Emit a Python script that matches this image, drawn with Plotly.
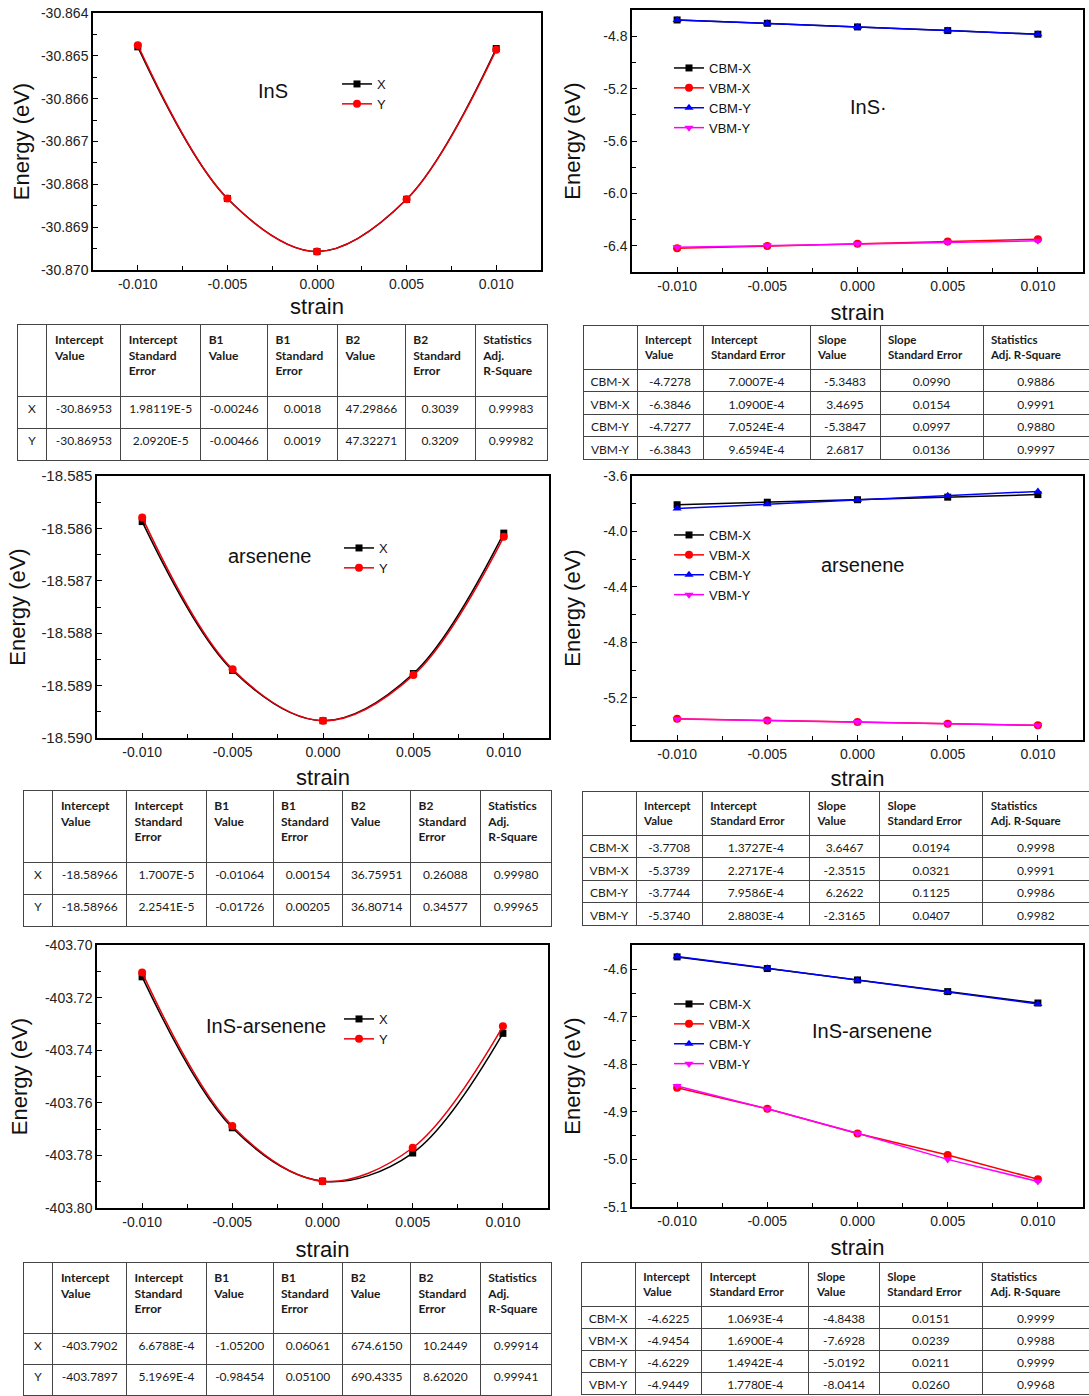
import plotly.graph_objects as go

W, H = 1089, 1396

# ---------------- data ----------------
strain = [-0.010, -0.005, 0.000, 0.005, 0.010]
strain_ticks = ["-0.010", "-0.005", "0.000", "0.005", "0.010"]

# total energies (eV)
ins_X = [-30.86479, -30.86833, -30.86957, -30.86835, -30.86483]
ins_Y = [-30.86475, -30.86833, -30.86957, -30.86835, -30.86486]
ars_X = [-18.58587, -18.58871, -18.58967, -18.58877, -18.58609]
ars_Y = [-18.58579, -18.58869, -18.58967, -18.58880, -18.58616]
het_X = [-403.7121, -403.7695, -403.7898, -403.7791, -403.7336]
het_Y = [-403.7105, -403.7688, -403.7898, -403.7771, -403.7309]

# band edges (eV)
ins_cbm_x = [-4.6761, -4.7014, -4.7292, -4.7570, -4.7848]
ins_vbm_x = [-6.4195, -6.4020, -6.3850, -6.3670, -6.3497]
ins_cbm_y = [-4.6755, -4.7010, -4.7290, -4.7572, -4.7855]
ins_vbm_y = [-6.4110, -6.3980, -6.3840, -6.3730, -6.3620]

ars_cbm_x = [-3.8072, -3.7890, -3.7710, -3.7525, -3.7340]
ars_vbm_x = [-5.3505, -5.3620, -5.3740, -5.3855, -5.3975]
ars_cbm_y = [-3.8350, -3.8030, -3.7720, -3.7430, -3.7110]
ars_vbm_y = [-5.3510, -5.3625, -5.3740, -5.3855, -5.3970]

het_cbm_x = [-4.5740, -4.5985, -4.6225, -4.6470, -4.6710]
het_vbm_x = [-4.8490, -4.8935, -4.9456, -4.9908, -5.0416]
het_cbm_y = [-4.5730, -4.5980, -4.6230, -4.6480, -4.6730]
het_vbm_y = [-4.8455, -4.8935, -4.9450, -4.9999, -5.0464]

# y tick labels per panel
ins_e_ticks = ["-30.864", "-30.865", "-30.866", "-30.867", "-30.868", "-30.869", "-30.870"]
ins_b_ticks = ["-4.8", "-5.2", "-5.6", "-6.0", "-6.4"]
ars_e_ticks = ["-18.585", "-18.586", "-18.587", "-18.588", "-18.589", "-18.590"]
ars_b_ticks = ["-3.6", "-4.0", "-4.4", "-4.8", "-5.2"]
het_e_ticks = ["-403.70", "-403.72", "-403.74", "-403.76", "-403.78", "-403.80"]
het_b_ticks = ["-4.6", "-4.7", "-4.8", "-4.9", "-5.0", "-5.1"]

# fit tables
quad_header = ["", "Intercept<br>Value", "Intercept<br>Standard<br>Error", "B1<br>Value",
               "B1<br>Standard<br>Error", "B2<br>Value", "B2<br>Standard<br>Error",
               "Statistics<br>Adj.<br>R-Square"]
lin_header = ["", "Intercept<br>Value", "Intercept<br>Standard Error", "Slope<br>Value",
              "Slope<br>Standard Error", "Statistics<br>Adj. R-Square"]

quad_rows = ["X", "Y"]
lin_rows = ["CBM-X", "VBM-X", "CBM-Y", "VBM-Y"]

t1_X = ["-30.86953", "1.98119E-5", "-0.00246", "0.0018", "47.29866", "0.3039", "0.99983"]
t1_Y = ["-30.86953", "2.0920E-5", "-0.00466", "0.0019", "47.32271", "0.3209", "0.99982"]

t3_X = ["-18.58966", "1.7007E-5", "-0.01064", "0.00154", "36.75951", "0.26088", "0.99980"]
t3_Y = ["-18.58966", "2.2541E-5", "-0.01726", "0.00205", "36.80714", "0.34577", "0.99965"]

t5_X = ["-403.7902", "6.6788E-4", "-1.05200", "0.06061", "674.6150", "10.2449", "0.99914"]
t5_Y = ["-403.7897", "5.1969E-4", "-0.98454", "0.05100", "690.4335", "8.62020", "0.99941"]

t2_cbm_x = ["-4.7278", "7.0007E-4", "-5.3483", "0.0990", "0.9886"]
t2_vbm_x = ["-6.3846", "1.0900E-4", "3.4695", "0.0154", "0.9991"]
t2_cbm_y = ["-4.7277", "7.0524E-4", "-5.3847", "0.0997", "0.9880"]
t2_vbm_y = ["-6.3843", "9.6594E-4", "2.6817", "0.0136", "0.9997"]

t4_cbm_x = ["-3.7708", "1.3727E-4", "3.6467", "0.0194", "0.9998"]
t4_vbm_x = ["-5.3739", "2.2717E-4", "-2.3515", "0.0321", "0.9991"]
t4_cbm_y = ["-3.7744", "7.9586E-4", "6.2622", "0.1125", "0.9986"]
t4_vbm_y = ["-5.3740", "2.8803E-4", "-2.3165", "0.0407", "0.9982"]

t6_cbm_x = ["-4.6225", "1.0693E-4", "-4.8438", "0.0151", "0.9999"]
t6_vbm_x = ["-4.9454", "1.6900E-4", "-7.6928", "0.0239", "0.9988"]
t6_cbm_y = ["-4.6229", "1.4942E-4", "-5.0192", "0.0211", "0.9999"]
t6_vbm_y = ["-4.9449", "1.7780E-4", "-8.0414", "0.0260", "0.9968"]

panel_labels = ["InS", "InS·", "arsenene", "arsenene", "InS-arsenene", "InS-arsenene"]

# ---------------- helpers ----------------
def px(x):
    return x / W

def py(y):
    return 1 - y / H

FONT = "Liberation Sans, Arial, sans-serif"
TFONT = "Lato, Carlito, Calibri, sans-serif"

fig = go.Figure()

# panel boxes in pixels: (x0, x1, ytop, ybottom)
boxes = [
    (93, 541, 13, 270),
    (632, 1083, 10, 272),
    (97, 549, 476, 738),
    (632, 1083, 476, 740),
    (97, 548, 945, 1208),
    (632, 1083, 945, 1207),
]
yranges = [
    ([-30.870, -30.864], ins_e_ticks, 0.0005, -30.864),
    ([-6.60, -4.60], ins_b_ticks, 0.2, -4.8),
    ([-18.590, -18.585], ars_e_ticks, 0.0005, -18.585),
    ([-5.503, -3.60], ars_b_ticks, 0.2, -3.6),
    ([-403.80, -403.70], het_e_ticks, 0.01, -403.70),
    ([-5.10, -4.549], het_b_ticks, 0.05, -4.6),
]
ystandoff = [5, 17, 10, 17, 11, 17]
xstandoff = [8, 12, 11, 10, 13, 12]
ytickfont = [14, 14, 15, 14, 14, 14]

legend_pos = [(384, 82), (716, 66), (386, 546), (716, 533), (386, 1017), (716, 1002)]
label_pos = [(273, 91), (868, 107), (269, 556), (862, 565), (266, 1026), (872, 1031)]

quad_sets = [(ins_X, ins_Y), (ars_X, ars_Y), (het_X, het_Y)]
band_sets = [
    (ins_cbm_x, ins_vbm_x, ins_cbm_y, ins_vbm_y),
    (ars_cbm_x, ars_vbm_x, ars_cbm_y, ars_vbm_y),
    (het_cbm_x, het_vbm_x, het_cbm_y, het_vbm_y),
]

for i in range(6):
    n = i + 1
    xa = "x" if n == 1 else f"x{n}"
    ya = "y" if n == 1 else f"y{n}"
    lg = "legend" if n == 1 else f"legend{n}"
    if i % 2 == 0:
        sx, sy = quad_sets[i // 2]
        fig.add_trace(go.Scatter(x=strain, y=sx, name="X", mode="lines+markers",
                                 line=dict(color="black", width=1.5, shape="spline"),
                                 marker=dict(symbol="square", size=7, color="black"),
                                 xaxis=xa, yaxis=ya, legend=lg))
        fig.add_trace(go.Scatter(x=strain, y=sy, name="Y", mode="lines+markers",
                                 line=dict(color="#e8000b", width=1.5, shape="spline"),
                                 marker=dict(symbol="circle", size=8, color="#ff0000"),
                                 xaxis=xa, yaxis=ya, legend=lg))
    else:
        cx, vx, cy, vy = band_sets[i // 2]
        specs = [("CBM-X", cx, "black", "square", 7),
                 ("VBM-X", vx, "#ff0000", "circle", 8),
                 ("CBM-Y", cy, "#0000ff", "triangle-up", 8),
                 ("VBM-Y", vy, "#ff00ff", "triangle-down", 8)]
        for name, vals, col, sym, sz in specs:
            fig.add_trace(go.Scatter(x=strain, y=vals, name=name, mode="lines+markers",
                                     line=dict(color=col, width=1.5),
                                     marker=dict(symbol=sym, size=sz, color=col),
                                     xaxis=xa, yaxis=ya, legend=lg))

    x0, x1, yt, yb = boxes[i]
    yr, yticks, ymin_dt, ytick0 = yranges[i]
    common = dict(showline=True, linecolor="black", linewidth=1.5, mirror=True,
                  ticks="inside", ticklen=5, tickwidth=1.2, tickcolor="black",
                  showgrid=False, zeroline=False, automargin=False)
    fig.layout[f"xaxis{'' if n == 1 else n}"] = dict(
        domain=[px(x0), px(x1)], anchor=ya, range=[-0.0125, 0.0125],
        tickmode="array", tickvals=[float(t) for t in strain_ticks], ticktext=strain_ticks,
        tickfont=dict(family=FONT, size=14, color="#222"),
        minor=dict(ticks="inside", ticklen=4, tickcolor="black", tickmode="linear",
                   dtick=0.0025, tick0=-0.0125, showgrid=False),
        title=dict(text="strain", font=dict(family=FONT, size=22, color="#111"), standoff=xstandoff[i]),
        **common)
    fig.layout[f"yaxis{'' if n == 1 else n}"] = dict(
        domain=[py(yb), py(yt)], anchor=xa, range=yr,
        tickmode="array", tickvals=[float(t) for t in yticks], ticktext=yticks,
        tickfont=dict(family=FONT, size=ytickfont[i], color="#222"),
        minor=dict(ticks="inside", ticklen=4, tickcolor="black", tickmode="linear",
                   dtick=ymin_dt, tick0=ytick0, showgrid=False),
        title=dict(text="Energy (eV)", font=dict(family=FONT, size=22, color="#111"), standoff=ystandoff[i]),
        **common)

    lx, ly = legend_pos[i]
    fig.layout[lg] = dict(x=px(lx - 47), y=py(ly - 13), xanchor="left", yanchor="top",
                          bgcolor="rgba(0,0,0,0)", borderwidth=0,
                          font=dict(family=FONT, size=13, color="#111"),
                          tracegroupgap=0, itemsizing="trace")
    tx, ty = label_pos[i]
    fig.add_annotation(x=px(tx), y=py(ty), xref="paper", yref="paper", text=panel_labels[i],
                       showarrow=False, xanchor="center", yanchor="middle",
                       font=dict(family=FONT, size=20, color="#111"))

# ---------------- tables ----------------
def bold(h):
    return "<br>".join(f"<b>{p}</b>" for p in h.split("<br>")) if h else ""

def add_table(header, rows, data_rows, widths, x0, x1, yt, yb, hh, ch, hfs):
    cols = [rows] + [list(c) for c in zip(*data_rows)]
    fig.add_trace(go.Table(
        domain=dict(x=[px(x0), min(1.0, px(x1))], y=[py(yb), py(yt)]),
        columnwidth=widths,
        header=dict(values=[bold(h) for h in header], align="left", height=hh,
                    line=dict(color="#444", width=1), fill_color="white",
                    font=dict(family=TFONT, size=hfs, color="#1a1a1a")),
        cells=dict(values=cols, align="center", height=ch,
                   line=dict(color="#444", width=1), fill_color="white",
                   font=dict(family=TFONT, size=12, color="#1a1a1a")),
    ))

quad_w = [30, 74, 80, 67, 70, 68, 70, 72]
lin_w = [54, 66, 107, 70, 103, 106]

add_table(quad_header, quad_rows, [t1_X, t1_Y], quad_w, 17, 547, 324, 462, 72, 32, 12)
add_table(lin_header, lin_rows, [t2_cbm_x, t2_vbm_x, t2_cbm_y, t2_vbm_y], lin_w, 583, 1089, 325, 464, 44, 22.5, 11.5)
add_table(quad_header, quad_rows, [t3_X, t3_Y], quad_w, 23, 553, 790, 928, 72, 32, 12)
add_table(lin_header, lin_rows, [t4_cbm_x, t4_vbm_x, t4_cbm_y, t4_vbm_y], lin_w, 582, 1089, 791, 930, 44, 22.5, 11.5)
add_table(quad_header, quad_rows, [t5_X, t5_Y], quad_w, 23, 553, 1262, 1396, 71, 31, 12)
add_table(lin_header, lin_rows, [t6_cbm_x, t6_vbm_x, t6_cbm_y, t6_vbm_y], lin_w, 581, 1089, 1262, 1396, 44, 22, 11.5)

fig.update_layout(width=W, height=H, margin=dict(l=0, r=0, t=0, b=0),
                  paper_bgcolor="white", plot_bgcolor="white", showlegend=True)

fig.write_html("out.html", config={"displayModeBar": False},
               post_script="document.body.style.margin='0';document.body.style.overflow='hidden';")
